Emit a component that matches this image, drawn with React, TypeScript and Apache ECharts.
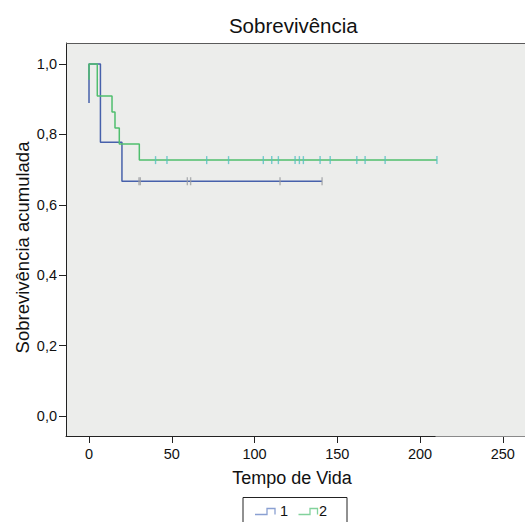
import React, { useEffect, useRef } from "react";
import * as echarts from "echarts";

// Kaplan-Meier step curves (time, cumulative survival)
const group1Times = [0, 0, 6.9, 19.9, 140.8];
const group1Surv = [0.889, 1.0, 0.778, 0.667, 0.667];
const group2Times = [0, 0, 5.0, 13.9, 15.7, 18.3, 30.4, 210.2];
const group2Surv = [0.955, 1.0, 0.909, 0.864, 0.818, 0.773, 0.727, 0.727];

// censored observations
const group1Censored = [30.2, 31.0, 59.4, 61.4, 115.4, 140.8];
const group1CensoredSurv = 0.667;
const group2Censored = [
  40.2, 47.1, 71.1, 84.3, 105.3, 110.4, 114.4, 124.5, 127.1, 129.5, 139.6,
  145.7, 161.8, 166.8, 178.9, 210.2,
];
const group2CensoredSurv = 0.727;

const xTicks = [0, 50, 100, 150, 200, 250];
const yTicks = [0, 0.2, 0.4, 0.6, 0.8, 1.0];
const legendNames = ["1", "2"];

const FONT = "'Liberation Sans', Arial, Helvetica, sans-serif";
const BLUE = "#4761ab";
const GREEN = "#4fbe6e";

export default function App() {
  const ref = useRef<HTMLDivElement>(null);
  useEffect(() => {
    document.body.style.margin = "0";
    if (!ref.current) return;
    const chart = echarts.init(ref.current, null, { renderer: "svg" });
    const option: any = {
      animation: false,
      backgroundColor: "#ffffff",
      grid: {
        left: 66,
        top: 43,
        bottom: 86,
        right: 0,
        show: true,
        backgroundColor: "#ECEDEB",
        borderWidth: 0,
      },
      xAxis: {
        type: "value",
        min: -13.9,
        max: 263.4,
        axisLine: { show: true, onZero: false, lineStyle: { color: "#222", width: 1 } },
        axisTick: {
          show: true,
          length: 7,
          customValues: xTicks,
          lineStyle: { color: "#222", width: 1 },
        },
        axisLabel: {
          customValues: xTicks,
          fontSize: 14.5,
          color: "#111",
          fontFamily: FONT,
          margin: 10,
        },
        splitLine: { show: false },
      },
      yAxis: {
        type: "value",
        min: -0.0568,
        max: 1.0597,
        axisLine: { show: true, onZero: false, lineStyle: { color: "#222", width: 1 } },
        axisTick: {
          show: true,
          length: 7,
          customValues: yTicks,
          lineStyle: { color: "#222", width: 1 },
        },
        axisLabel: {
          customValues: yTicks,
          fontSize: 14.5,
          color: "#111",
          fontFamily: FONT,
          margin: 9,
          formatter: (v: number) => v.toFixed(1).replace(".", ","),
        },
        splitLine: { show: false },
      },
      series: [
        {
          name: legendNames[0],
          type: "line",
          step: "end",
          symbol: "none",
          lineStyle: { color: BLUE, width: 1.5 },
          data: group1Times.map((t, i) => [t, group1Surv[i]]),
          z: 2,
        },
        {
          name: legendNames[1],
          type: "line",
          step: "end",
          symbol: "none",
          lineStyle: { color: GREEN, width: 1.5 },
          data: group2Times.map((t, i) => [t, group2Surv[i]]),
          z: 3,
        },
        {
          type: "scatter",
          symbol: "rect",
          symbolSize: [1.4, 8],
          itemStyle: { color: "#9c9fa3" },
          data: group1Censored.map((t) => [t, group1CensoredSurv]),
          z: 4,
        },
        {
          type: "scatter",
          symbol: "rect",
          symbolSize: [1.4, 8],
          itemStyle: { color: "#55c0c2" },
          data: group2Censored.map((t) => [t, group2CensoredSurv]),
          z: 4,
        },
      ],
      graphic: [
        {
          type: "line",
          shape: { x1: 66, y1: 43.5, x2: 525, y2: 43.5 },
          style: { stroke: "#5a5a5a", lineWidth: 1 },
          z: 100,
        },
        {
          type: "text",
          x: 293.3,
          y: 25,
          style: {
            text: "Sobrevivência",
            fontSize: 20.5,
            fontFamily: FONT,
            fill: "#111",
            textAlign: "center",
            textVerticalAlign: "middle",
          },
        },
        {
          type: "text",
          x: 292,
          y: 478,
          style: {
            text: "Tempo de Vida",
            fontSize: 18,
            fontFamily: FONT,
            fill: "#111",
            textAlign: "center",
            textVerticalAlign: "middle",
          },
        },
        {
          type: "text",
          x: 22,
          y: 247.5,
          rotation: Math.PI / 2,
          style: {
            text: "Sobrevivência acumulada",
            fontSize: 18.5,
            fontFamily: FONT,
            fill: "#111",
            textAlign: "center",
            textVerticalAlign: "middle",
          },
        },
        {
          type: "line",
          shape: { x1: 435.5, y1: 436.5, x2: 525, y2: 436.5 },
          style: { stroke: "#8a8a8a", lineWidth: 1 },
          z: 100,
        },
        {
          type: "rect",
          shape: { x: 243, y: 497.5, width: 104, height: 40 },
          style: { fill: "#ffffff", stroke: "#222", lineWidth: 1 },
        },
        {
          type: "polyline",
          shape: {
            points: [
              [255, 514.5],
              [267, 514.5],
              [267, 508.5],
              [275, 508.5],
              [275, 514.5],
            ],
          },
          style: { stroke: "#8aa0d2", lineWidth: 1.3, fill: "none" },
        },
        {
          type: "text",
          x: 280,
          y: 511,
          style: {
            text: legendNames[0],
            fontSize: 14.5,
            fontFamily: FONT,
            fill: "#111",
            textAlign: "left",
            textVerticalAlign: "middle",
          },
        },
        {
          type: "polyline",
          shape: {
            points: [
              [298.5, 514.5],
              [310, 514.5],
              [310, 508.5],
              [317.5, 508.5],
              [317.5, 514.5],
            ],
          },
          style: { stroke: "#82d29c", lineWidth: 1.3, fill: "none" },
        },
        {
          type: "text",
          x: 319,
          y: 511,
          style: {
            text: legendNames[1],
            fontSize: 14.5,
            fontFamily: FONT,
            fill: "#111",
            textAlign: "left",
            textVerticalAlign: "middle",
          },
        },
      ],
    };
    chart.setOption(option);
    return () => chart.dispose();
  }, []);
  return (
    <div
      ref={ref}
      style={{ position: "absolute", left: 0, top: 0, width: 525, height: 522 }}
    />
  );
}
